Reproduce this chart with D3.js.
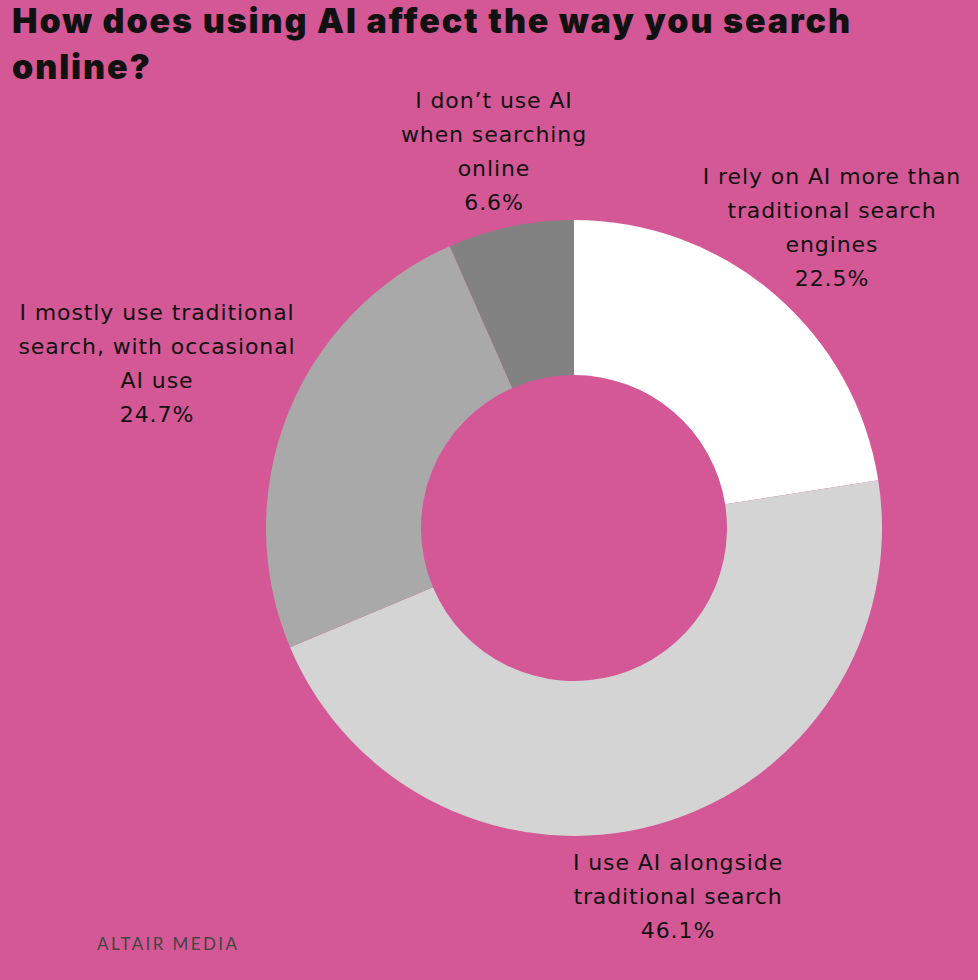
<!DOCTYPE html>
<html><head><meta charset="utf-8">
<script src="https://cdn.jsdelivr.net/npm/d3@7"></script>
<style>body{margin:0;background:#d55896;}</style>
</head><body>
<script>
const categories = ["I rely on AI more than traditional search engines",
  "I use AI alongside traditional search",
  "I mostly use traditional search, with occasional AI use",
  "I don’t use AI when searching online"];
const values = [22.5, 46.1, 24.7, 6.6];
const colors = ["#ffffff", "#d4d4d4", "#a9a9a9", "#828282"];
// label lines and anchor positions
const labelLines = [
  ["I rely on AI more than", "traditional search", "engines"],
  ["I use AI alongside", "traditional search"],
  ["I mostly use traditional", "search, with occasional", "AI use"],
  ["I don’t use AI", "when searching", "online"]
];
const labelPos = [[832, 184], [678, 870], [157, 320], [494, 108]];

const W = 978, H = 980, cx = 574, cy = 528;
const svg = d3.select("body").append("svg").attr("width", W).attr("height", H);
svg.append("rect").attr("width", W).attr("height", H).attr("fill", "#d55896");

svg.append("text").attr("x", 12).attr("font-family", "Inter, sans-serif")
  .attr("font-weight", 900).attr("font-size", 34).attr("letter-spacing", 1.9).attr("fill", "#111")
  .selectAll("tspan").data(["How does using AI affect the way you search", "online?"])
  .enter().append("tspan").attr("x", 12).attr("y", (d, i) => 33 + i * 46).text(d => d);

const pie = d3.pie().sort(null).value(d => d);
const arc = d3.arc().innerRadius(153).outerRadius(308);
const g = svg.append("g").attr("transform", `translate(${cx},${cy})`);
g.selectAll("path").data(pie(values)).enter().append("path")
  .attr("d", arc).attr("fill", (d, i) => colors[i]);

labelLines.forEach((lines, i) => {
  const t = svg.append("text").attr("text-anchor", "middle")
    .attr("font-family", "DejaVu Sans, sans-serif").attr("font-size", 22)
    .attr("letter-spacing", 0.9).attr("fill", "#111");
  lines.concat([values[i].toFixed(1) + "%"]).forEach((l, j) => {
    t.append("tspan").attr("x", labelPos[i][0]).attr("y", labelPos[i][1] + j * 34).text(l);
  });
});

svg.append("text").attr("x", 97).attr("y", 950).attr("font-family", "Lato, sans-serif")
  .attr("font-size", 17).attr("letter-spacing", 2.4).attr("fill", "#444").text("ALTAIR MEDIA");
</script>
</body></html>
